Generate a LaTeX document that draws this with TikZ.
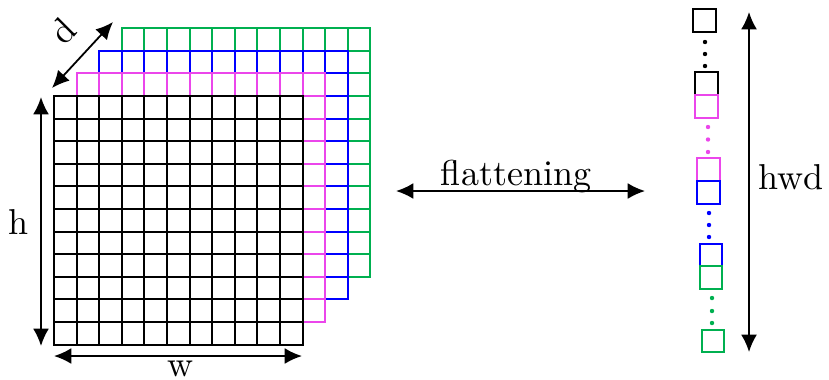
\documentclass[tikz,border=0pt]{standalone}
\usetikzlibrary{arrows.meta}
\definecolor{cpink}{RGB}{235,70,235}
\definecolor{cblue}{RGB}{0,0,255}
\definecolor{cgreen}{RGB}{0,176,80}
\newcommand\mylayer[3]{%
  \fill[white] (#1,#2) rectangle ++(248.6,248.6);
  \foreach \i in {0,...,11} {
    \draw[gridline,#3] (#1+\i*22.6,#2) -- ++(0,248.6);
    \draw[gridline,#3] (#1,#2+\i*22.6) -- ++(248.6,0);
  }%
}
\begin{document}
\begin{tikzpicture}[x=0.27778pt,y=-0.27778pt,
  gridline/.style={line width=0.6pt,line cap=rect},
  dim/.style={line width=0.5pt,{Latex[length=4.8pt,width=4.4pt]}-{Latex[length=4.8pt,width=4.4pt]}},
  sq/.style={draw,line width=0.55pt,minimum size=6.2pt,inner sep=0pt},
  lbl/.style={inner sep=0pt}]
\useasboundingbox (0,0) rectangle (829,379);
% layers
\mylayer{121.8}{28.2}{cgreen}
\mylayer{99.2}{50.8}{cblue}
\mylayer{76.6}{73.4}{cpink}
\mylayer{54}{96}{black}
% dimension arrows
\coordinate (ht) at (41,97);
\coordinate (hb) at (41,346);
\draw[dim] (ht) -- (hb);
\node[lbl,anchor=base] (hl) at (18.5,234) {h};
\coordinate (wl) at (54,356);
\coordinate (wr) at (302,356);
\draw[dim] (wl) -- (wr);
\node[lbl,anchor=base] (wlab) at (180,376) {w};
\coordinate (dl) at (52,88);
\coordinate (du) at (113,22);
\draw[dim] (dl) -- (du);
\node[lbl,rotate=45] (dlab) at (63,31) {d};
% flattening
\coordinate (fl) at (396,191);
\coordinate (fr) at (645,191);
\draw[dim] (fl) -- (fr);
\node[lbl,anchor=base] (flab) at (516,185) {flattening};
% hwd
\coordinate (vt) at (749,12);
\coordinate (vb) at (749,352);
\draw[dim] (vt) -- (vb);
\node[lbl,anchor=base] (hwd) at (791,189) {hwd};
% column
\node[sq,draw=black] (s1) at (704.5,20.5) {};
\node[sq,draw=black] (s2) at (706.5,83.5) {};
\node[sq,draw=cpink] (s3) at (706.5,106.5) {};
\node[sq,draw=cpink] (s4) at (708.5,169.5) {};
\node[sq,draw=cblue] (s5) at (708.5,192.5) {};
\node[sq,draw=cblue] (s6) at (711,255) {};
\node[sq,draw=cgreen] (s7) at (711,277.5) {};
\node[sq,draw=cgreen] (s8) at (713,341) {};
\foreach \y in {42,54,66} \fill[black] (705,\y) circle[radius=2.2];
\foreach \y in {127,139.5,152} \fill[cpink] (708,\y) circle[radius=2.2];
\foreach \y in {213,225,237} \fill[cblue] (709,\y) circle[radius=2.2];
\foreach \y in {298,311,323} \fill[cgreen] (712,\y) circle[radius=2.2];
\end{tikzpicture}
\end{document}
